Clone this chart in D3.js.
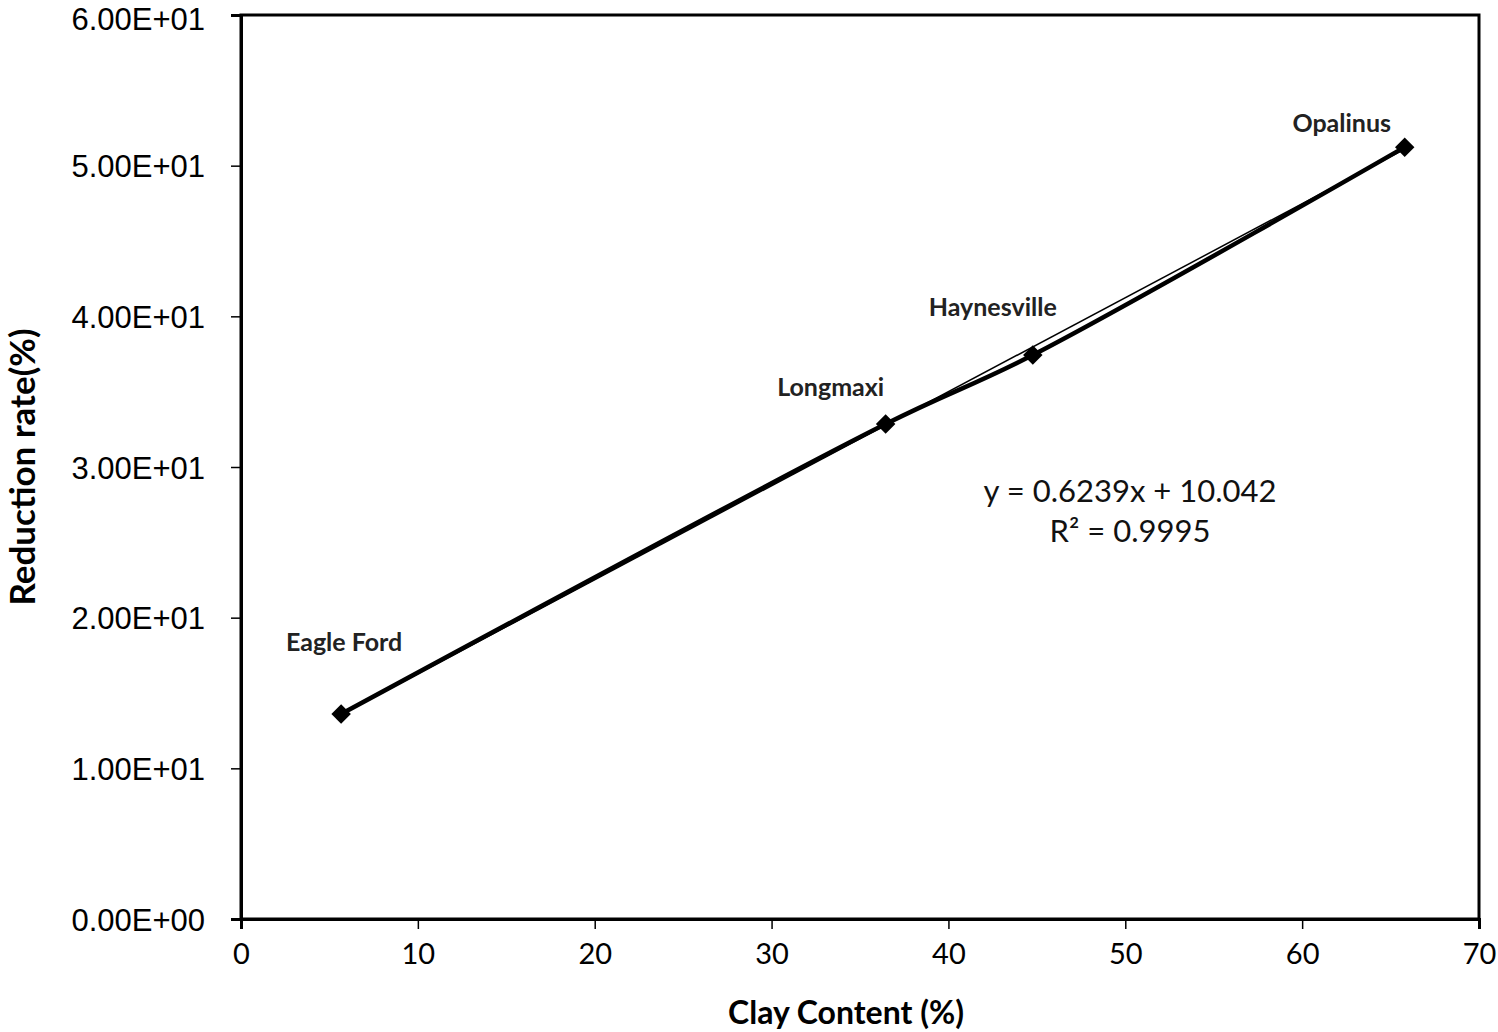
<!DOCTYPE html>
<html><head><meta charset="utf-8">
<script src="https://cdn.jsdelivr.net/npm/d3@7"></script>
<style>body{margin:0;background:#fff}svg{display:block}</style>
</head><body>
<svg id="c" width="1498" height="1032"></svg>
<script>
const names = ["Eagle Ford", "Longmaxi", "Haynesville", "Opalinus"];
const clay = [5.66, 36.45, 44.77, 65.8];
const reduction = [13.6, 32.85, 37.43, 51.23];
const xTicks = [0, 10, 20, 30, 40, 50, 60, 70];
const yTicks = [0, 10, 20, 30, 40, 50, 60];
const slope = 0.6239, intercept = 10.042;
const eqText = "y = 0.6239x + 10.042";
const r2Text = "R² = 0.9995";

const svg = d3.select("#c");
const L = 241, R = 1479, T = 15, B = 919;
const x = d3.scaleLinear().domain([0, 70]).range([L, R]);
const y = d3.scaleLinear().domain([0, 60]).range([B, T]);
const ser = "Lato, 'Open Sans', sans-serif";

// plot border
svg.append("rect").attr("x", L).attr("y", T).attr("width", R - L).attr("height", B - T)
  .attr("fill", "none").attr("stroke", "#000").attr("stroke-width", 3);

// y axis
const ya = svg.append("g").attr("transform", `translate(${L},0)`)
  .call(d3.axisLeft(y).tickValues(yTicks).tickSize(10).tickPadding(26)
    .tickFormat(d => d.toExponential(2).toUpperCase().replace(/E([+-])(\d)$/, "E$10$2")));
ya.select(".domain").attr("stroke-width", 3);
ya.selectAll(".tick line").attr("stroke-width", 1.5);
ya.selectAll("text").attr("font-family", "'Liberation Sans', Arial, sans-serif").attr("font-size", 31).attr("fill", "#000")
  .attr("dy", d => d === 60 ? "0.46em" : "0.36em");

// x axis
const xa = svg.append("g").attr("transform", `translate(0,${B})`)
  .call(d3.axisBottom(x).tickValues(xTicks).tickSize(10).tickPadding(14));
xa.select(".domain").attr("stroke-width", 3);
xa.selectAll(".tick line").attr("stroke-width", 1.5);
xa.selectAll("text").attr("font-family", ser).attr("font-size", 29).attr("fill", "#000");

// axis titles
svg.append("text").attr("x", 846).attr("y", 1024).attr("text-anchor", "middle")
  .attr("font-family", ser).attr("font-weight", "bold").attr("font-size", 32).text("Clay Content (%)");
svg.append("text").attr("transform", `translate(35,467) rotate(-90)`).attr("text-anchor", "middle")
  .attr("font-family", ser).attr("font-weight", "bold").attr("font-size", 35).text("Reduction rate(%)");

// trendline
const x0 = d3.min(clay), x1 = d3.max(clay);
svg.append("line").attr("x1", x(x0)).attr("y1", y(slope * x0 + intercept))
  .attr("x2", x(x1)).attr("y2", y(slope * x1 + intercept))
  .attr("stroke", "#000").attr("stroke-width", 1.5);

// data (smoothed)
const pts = clay.map((c, i) => [c, reduction[i]]);
svg.append("path").datum(pts)
  .attr("d", d3.line().x(d => x(d[0])).y(d => y(d[1])).curve(d3.curveCatmullRom.alpha(0.5)))
  .attr("fill", "none").attr("stroke", "#000").attr("stroke-width", 4.5);

svg.selectAll(".m").data(pts).enter().append("path")
  .attr("d", d3.symbol().type(d3.symbolSquare).size(190))
  .attr("transform", d => `translate(${x(d[0])},${y(d[1])}) rotate(45)`)
  .attr("fill", "#000");

// labels
const offs = [[3, -63], [-55, -28], [-40, -39], [-63, -15]];
svg.selectAll(".lbl").data(pts).enter().append("text")
  .attr("x", (d, i) => x(d[0]) + offs[i][0]).attr("y", (d, i) => y(d[1]) + offs[i][1])
  .attr("text-anchor", "middle").attr("font-family", ser).attr("font-weight", "bold")
  .attr("font-size", 25).attr("fill", "#222").text((d, i) => names[i]);

// equation
svg.append("text").attr("x", 1130).attr("y", 502).attr("text-anchor", "middle")
  .attr("font-family", ser).attr("font-size", 31).attr("fill", "#111").text(eqText);
svg.append("text").attr("x", 1130).attr("y", 542).attr("text-anchor", "middle")
  .attr("font-family", ser).attr("font-size", 31).attr("fill", "#111").text(r2Text);
</script>
</body></html>
